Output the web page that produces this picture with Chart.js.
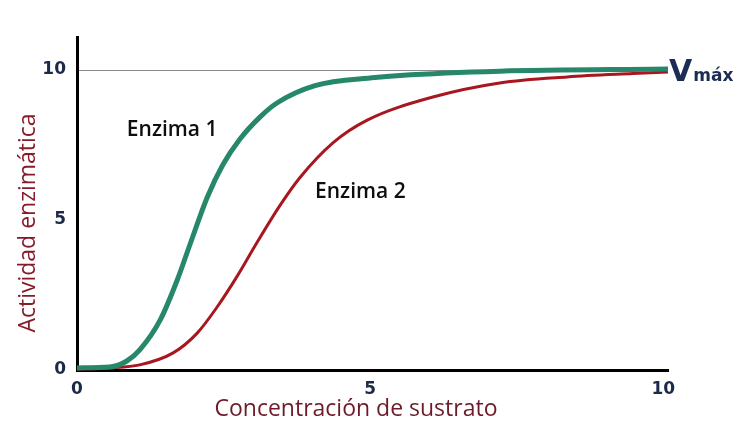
<!DOCTYPE html>
<html>
<head>
<meta charset="utf-8">
<script src="https://cdn.jsdelivr.net/npm/chart.js@4"></script>
<style>
  html, body { margin: 0; padding: 0; background: #ffffff; }
  #wrap { width: 748px; height: 444px; }
</style>
</head>
<body>
<div id="wrap"><canvas id="c" width="748" height="444"></canvas></div>
<script>
// ---- data ----
const enzyme1X = [0, 0.56, 0.85, 1.07, 1.42, 1.71, 1.93, 2.22, 2.49, 2.78, 3.12, 3.41, 4.06, 5.08, 5.51, 7.21, 10.08];
const enzyme1Y = [0.07, 0.1, 0.3, 0.67, 1.67, 3.0, 4.2, 5.75, 6.85, 7.7, 8.43, 8.9, 9.48, 9.75, 9.82, 9.96, 10.03];
const enzyme2X = [0, 0.56, 1.07, 1.64, 2.05, 2.39, 2.73, 3.07, 3.46, 3.80, 4.37, 4.95, 6.07, 7.21, 8.36, 9.48, 10.08];
const enzyme2Y = [0.03, 0.07, 0.17, 0.57, 1.23, 2.1, 3.12, 4.25, 5.48, 6.41, 7.58, 8.33, 9.1, 9.57, 9.77, 9.88, 9.93];
const xTicks = [0, 5, 10];
const yTicks = [0, 5, 10];
const seriesNames = ['Enzima 1', 'Enzima 2'];
const xTitle = 'Concentración de sustrato';
const yTitle = 'Actividad enzimática';
const vmaxValue = 10;
// label anchors in data units
const labelX = [0.85, 4.06];
const labelY = [8.0, 5.93];

const toPts = (xs, ys) => xs.map((x, i) => ({ x: x, y: ys[i] }));

const overlay = {
  id: 'overlay',
  afterDraw(chart) {
    const ctx = chart.ctx;
    const xs = chart.scales.x, ys = chart.scales.y;
    const area = chart.chartArea;
    ctx.save();
    // series labels
    ctx.fillStyle = '#0e0e0e';
    ctx.font = '600 21px "Open Sans"';
    ctx.textAlign = 'left';
    ctx.textBaseline = 'middle';
    seriesNames.forEach((n, i) => {
      ctx.fillText(n, xs.getPixelForValue(labelX[i]), ys.getPixelForValue(labelY[i]));
    });
    // Vmax
    const vy = ys.getPixelForValue(vmaxValue);
    ctx.fillStyle = '#1c2c55';
    ctx.font = 'bold 30px "DejaVu Sans"';
    ctx.textBaseline = 'alphabetic';
    ctx.fillText('V', area.right + 1, vy + 11);
    const vw = ctx.measureText('V').width;
    ctx.font = 'bold 17px "DejaVu Sans"';
    ctx.fillText('máx', area.right + 1 + vw + 1, vy + 11);
    // axis titles
    ctx.textAlign = 'center';
    ctx.textBaseline = 'middle';
    ctx.fillStyle = '#6e1a28';
    ctx.font = '23px "Open Sans"';
    ctx.fillText(xTitle, 356, 409);
    ctx.fillStyle = '#861c2a';
    ctx.font = '23px "Open Sans"';
    ctx.translate(28, 223);
    ctx.rotate(-Math.PI / 2);
    ctx.fillText(yTitle, 0, 0);
    ctx.restore();
  }
};

new Chart(document.getElementById('c'), {
  type: 'line',
  data: {
    datasets: [
      {
        label: seriesNames[1],
        data: toPts(enzyme2X, enzyme2Y),
        borderColor: '#a8161f',
        borderWidth: 3,
        pointRadius: 0,
        cubicInterpolationMode: 'monotone',
        fill: false,
        order: 2
      },
      {
        label: seriesNames[0],
        data: toPts(enzyme1X, enzyme1Y),
        borderColor: '#26876a',
        borderWidth: 5,
        pointRadius: 0,
        cubicInterpolationMode: 'monotone',
        fill: false,
        order: 1
      }
    ]
  },
  options: {
    responsive: false,
    animation: false,
    clip: false,
    layout: { padding: { top: 37, right: 80, left: 0, bottom: 0 } },
    plugins: { legend: { display: false }, tooltip: { enabled: false } },
    scales: {
      x: {
        type: 'linear',
        min: 0,
        max: 10.08,
        afterBuildTicks: s => { s.ticks = xTicks.map(v => ({ value: v })); },
        afterFit: s => { s.height = 74; },
        grid: { display: false, drawTicks: false },
        border: { display: true, color: '#000000', width: 3 },
        ticks: {
          color: '#1c2a4a',
          font: { family: '"DejaVu Sans"', size: 17, weight: 'bold' },
          padding: 9,
          maxRotation: 0
        }
      },
      y: {
        type: 'linear',
        min: 0,
        max: 11.1,
        afterBuildTicks: s => { s.ticks = yTicks.map(v => ({ value: v })); },
        afterFit: s => { s.width = 77; },
        grid: {
          drawTicks: false,
          color: ctx => (ctx.tick && ctx.tick.value === 10 ? '#8a8a8a' : 'rgba(0,0,0,0)'),
          lineWidth: 1
        },
        border: { display: true, color: '#000000', width: 3 },
        ticks: {
          color: '#1c2a4a',
          font: { family: '"DejaVu Sans"', size: 17, weight: 'bold' },
          padding: 11
        }
      }
    }
  },
  plugins: [overlay]
});
</script>
</body>
</html>
